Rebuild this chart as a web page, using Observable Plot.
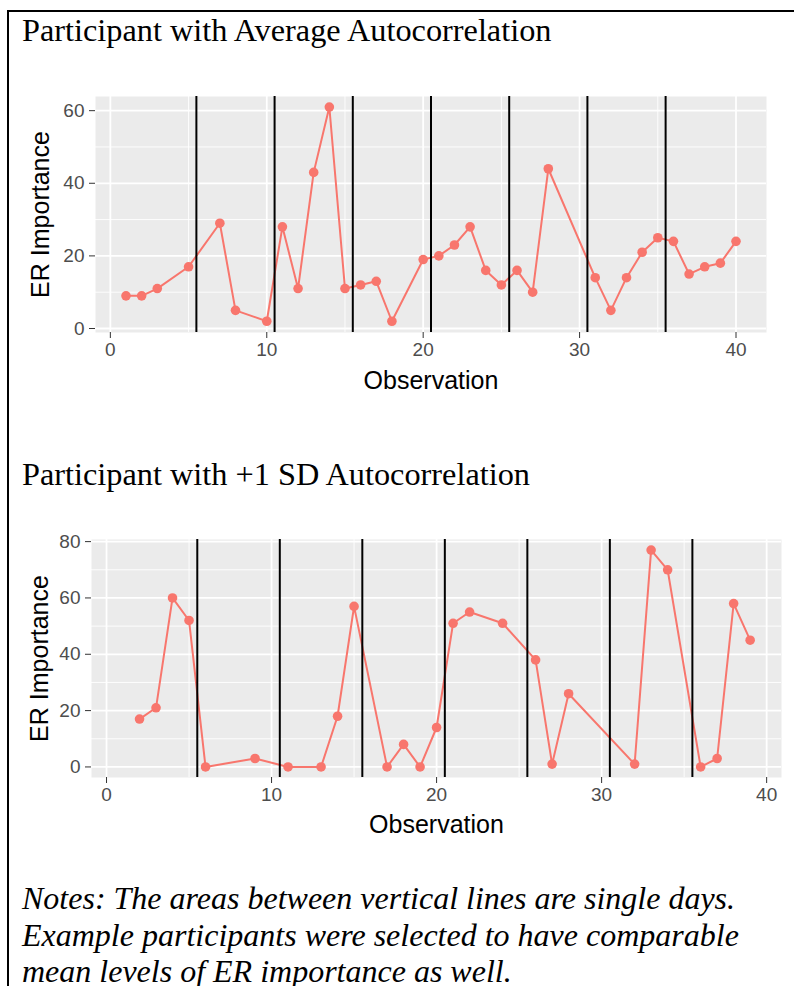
<!DOCTYPE html>
<html>
<head>
<meta charset="utf-8">
<script src="https://cdn.jsdelivr.net/npm/d3@7"></script>
<script src="https://cdn.jsdelivr.net/npm/@observablehq/plot@0.6"></script>
<style>
  body { margin: 0; background: white; }
  #page { position: relative; width: 794px; height: 986px; overflow: hidden; background: white; }
  #frameBorder { position: absolute; left: 7px; top: 10px; width: 900px; height: 1200px;
    border-top: 2px solid black; border-left: 2px solid black; }
  .title { position: absolute; left: 22px; font-family: "Liberation Serif", "Times New Roman", serif;
    font-size: 32.3px; line-height: 32px; color: black; white-space: nowrap; }
  .notes { position: absolute; left: 22px; font-family: "Liberation Serif", "Times New Roman", serif;
    font-style: italic; font-size: 32px; line-height: 36.5px; color: black; white-space: nowrap; }
  .plot { position: absolute; left: 0; }
  g[aria-label="y-axis label"], g[aria-label="x-axis label"] { font-size: 25px; fill: black; }
</style>
</head>
<body>
<div id="page">
  <div id="frameBorder"></div>
  <div class="title" id="t1" style="top:14px">Participant with Average Autocorrelation</div>
  <div class="plot" id="p1" style="top:70px"></div>
  <div class="title" id="t2" style="top:458px">Participant with +1 SD Autocorrelation</div>
  <div class="plot" id="p2" style="top:510px"></div>
  <div class="notes" style="top:880px">Notes: The areas between vertical lines are single days.<br>Example participants were selected to have comparable<br>mean levels of ER importance as well.</div>
</div>
<script>
// Participant with average autocorrelation
const obsA = [1,2,3,5,7,8,10,11,12,13,14,15,16,17,18,20,21,22,23,24,25,26,27,28,31,32,33,34,35,36,37,38,39,40];
const erA  = [9,9,11,17,29,5,2,28,11,43,61,11,12,13,2,19,20,23,28,16,12,16,10,44,14,5,14,21,25,24,15,17,18,24];
// Participant with +1 SD autocorrelation
const obsB = [2,3,4,5,6,9,11,13,14,15,17,18,19,20,21,22,24,26,27,28,32,33,34,36,37,38,39];
const erB  = [17,21,60,52,0,3,0,0,18,57,0,8,0,14,51,55,51,38,1,26,1,77,70,0,3,58,45];
// Day boundaries
const dayBreaks = [5.5,10.5,15.5,20.5,25.5,30.5,35.5];
// Ticks
const xMajor = [0,10,20,30,40];
const xMinor = [5,15,25,35];
const yMajorA = [0,20,40,60];
const yMinorA = [10,30,50];
const yMajorB = [0,20,40,60,80];
const yMinorB = [10,30,50,70];

const red = "#F8766D";

function panel({obs, er, xDomain, yDomain, yMajor, yMinor, width, height, ml, mr, mt, mb, yLabelOffset, xLabelOffset}) {
  const data = obs.map((o, i) => ({obs: o, er: er[i]}));
  return Plot.plot({
    width, height,
    marginLeft: ml, marginRight: mr, marginTop: mt, marginBottom: mb,
    style: {fontFamily: "'Liberation Sans', Arial, sans-serif", background: "transparent", overflow: "visible"},
    x: {domain: xDomain},
    y: {domain: yDomain},
    marks: [
      Plot.frame({fill: "#EBEBEB", stroke: "none"}),
      Plot.gridY(yMinor, {stroke: "white", strokeOpacity: 1, strokeWidth: 0.9}),
      Plot.gridX(xMinor, {stroke: "white", strokeOpacity: 1, strokeWidth: 0.9}),
      Plot.gridY(yMajor, {stroke: "white", strokeOpacity: 1, strokeWidth: 1.8}),
      Plot.gridX(xMajor, {stroke: "white", strokeOpacity: 1, strokeWidth: 1.8}),
      Plot.line(data, {x: "obs", y: "er", stroke: red, strokeWidth: 2}),
      Plot.dot(data, {x: "obs", y: "er", fill: red, r: 4.8}),
      Plot.ruleX(dayBreaks, {stroke: "black", strokeWidth: 2}),
      Plot.axisY(yMajor, {tickSize: 6, tickPadding: 5, fontSize: 19, color: "#4D4D4D", stroke: "#333333",
        label: "ER Importance", labelAnchor: "center", labelArrow: "none", labelOffset: yLabelOffset}),
      Plot.axisX(xMajor, {tickSize: 6, tickPadding: 4, fontSize: 19, color: "#4D4D4D", stroke: "#333333",
        label: "Observation", labelAnchor: "center", labelArrow: "none", labelOffset: xLabelOffset})
    ]
  });
}

document.getElementById("p1").appendChild(panel({
  obs: obsA, er: erA, xDomain: [-0.95, 41.95], yDomain: [-1.1, 63.9],
  yMajor: yMajorA, yMinor: yMinorA,
  width: 794, height: 340, ml: 95, mr: 28, mt: 26, mb: 78,
  yLabelOffset: 64, xLabelOffset: 56
}));

document.getElementById("p2").appendChild(panel({
  obs: obsB, er: erB, xDomain: [-0.91, 40.9], yDomain: [-3.75, 80.75],
  yMajor: yMajorB, yMinor: yMinorB,
  width: 794, height: 340, ml: 91, mr: 13, mt: 29, mb: 73,
  yLabelOffset: 61, xLabelOffset: 55
}));
</script>
</body>
</html>
